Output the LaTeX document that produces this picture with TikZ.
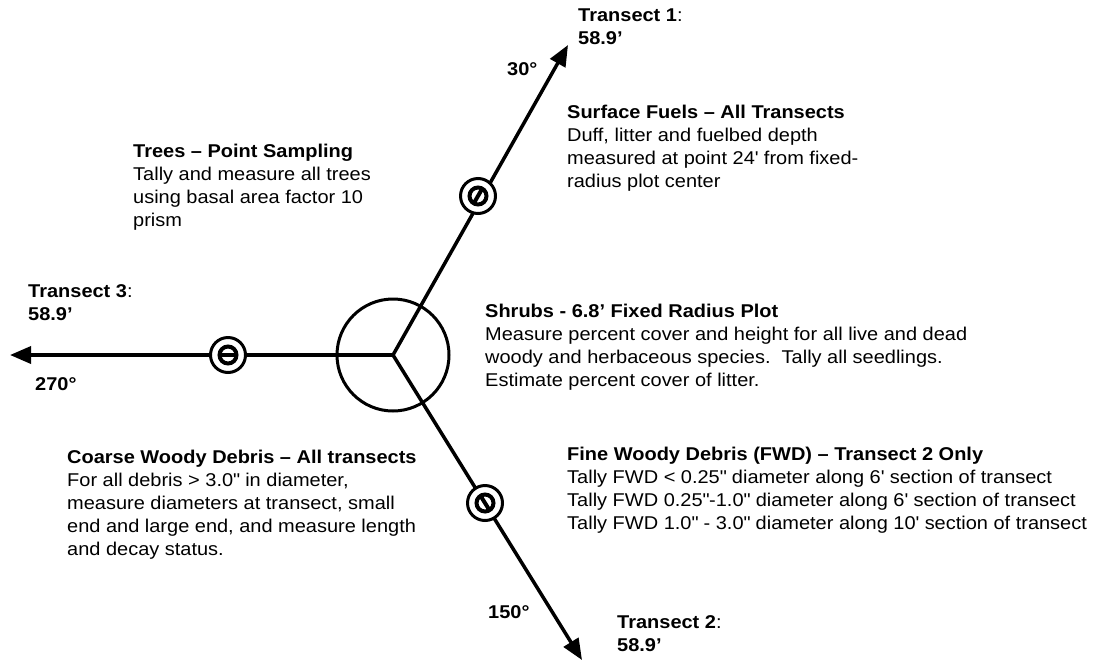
\documentclass[tikz,border=0pt]{standalone}
\usepackage{fontspec}
\setmainfont{Liberation Sans}[FakeStretch=1.08]
\usetikzlibrary{arrows.meta, positioning}
\newcommand{\inchmark}{\textquotedbl}
\newcommand{\footmark}{\textquotesingle}

\begin{document}
\begin{tikzpicture}[
    x=1pt, y=-1pt,
    leg/.style={line width=3.5pt, -{Triangle[length=21pt, width=17pt]}},
    plot/.style={circle, draw, line width=3pt, minimum size=112pt, inner sep=0pt},
    tag/.style={circle, draw, line width=3pt, fill=white, minimum size=35pt, inner sep=0pt,
        path picture={
            \draw[line width=4pt] (path picture bounding box.center) circle[radius=8.5pt];
            \draw[line width=4pt] ([shift={(#1:8.5pt)}]path picture bounding box.center)
                -- ([shift={(#1+180:8.5pt)}]path picture bounding box.center);
        }},
    note/.style={anchor=north west, align=left, inner sep=0pt, font=\fontsize{18.5}{23}\selectfont},
    deg/.style={anchor=north west, inner sep=0pt, font=\bfseries\fontsize{18.5}{23}\selectfont}
]
\useasboundingbox (0,0) rectangle (1099,662);

% Plot centre and transect ends
\coordinate (c) at (393,355);
\coordinate (t1) at (568,45);
\coordinate (t2) at (582,660);
\coordinate (t3) at (10,355);

% Fixed radius plot
\node[plot] (plot) at (c) {};

% Transects
\draw[leg] (c) -- (t1);
\draw[leg] (c) -- (t2);
\draw[leg] (c) -- (t3);

% Surface fuel points
\node[tag=60] (m1) at (478,196) {};
\node[tag=-58] (m2) at (485,503) {};
\node[tag=0] (m3) at (228,355) {};

% Transect labels
\node[note] (l1) at (578,9) {\textbf{Transect 1}:\\\textbf{58.9’}};
\node[note] (l3) at (28,284) {\textbf{Transect 3}:\\\textbf{58.9’}};
\node[note] (l2) at (617,615) {\textbf{Transect 2}:\\\textbf{58.9’}};
\node[deg] (d1) at (507,62) {30°};
\node[deg] (d3) at (35,377) {270°};
\node[deg] (d2) at (488,605) {150°};

% Protocol notes
\node[note] (trees) at (133,144) {\textbf{Trees – Point Sampling}\\Tally and measure all trees\\using basal area factor 10\\prism};
\node[note] (fuels) at (567,105) {\textbf{Surface Fuels – All Transects}\\Duff, litter and fuelbed depth\\measured at point 24\footmark{} from fixed-\\radius plot center};
\node[note] (shrubs) at (485,304) {\textbf{Shrubs - 6.8’ Fixed Radius Plot}\\Measure percent cover and height for all live and dead\\woody and herbaceous species.\ \ Tally all seedlings.\\Estimate percent cover of litter.};
\node[note] (cwd) at (67,450) {\textbf{Coarse Woody Debris – All transects}\\For all debris > 3.0\inchmark{} in diameter,\\measure diameters at transect, small\\end and large end, and measure length\\and decay status.};
\node[note] (fwd) at (567,447) {\textbf{Fine Woody Debris (FWD) – Transect 2 Only}\\Tally FWD < 0.25\inchmark{} diameter along 6\footmark{} section of transect\\Tally FWD 0.25\inchmark-1.0\inchmark{} diameter along 6\footmark{} section of transect\\Tally FWD 1.0\inchmark{} - 3.0\inchmark{} diameter along 10\footmark{} section of transect};

\end{tikzpicture}
\end{document}
